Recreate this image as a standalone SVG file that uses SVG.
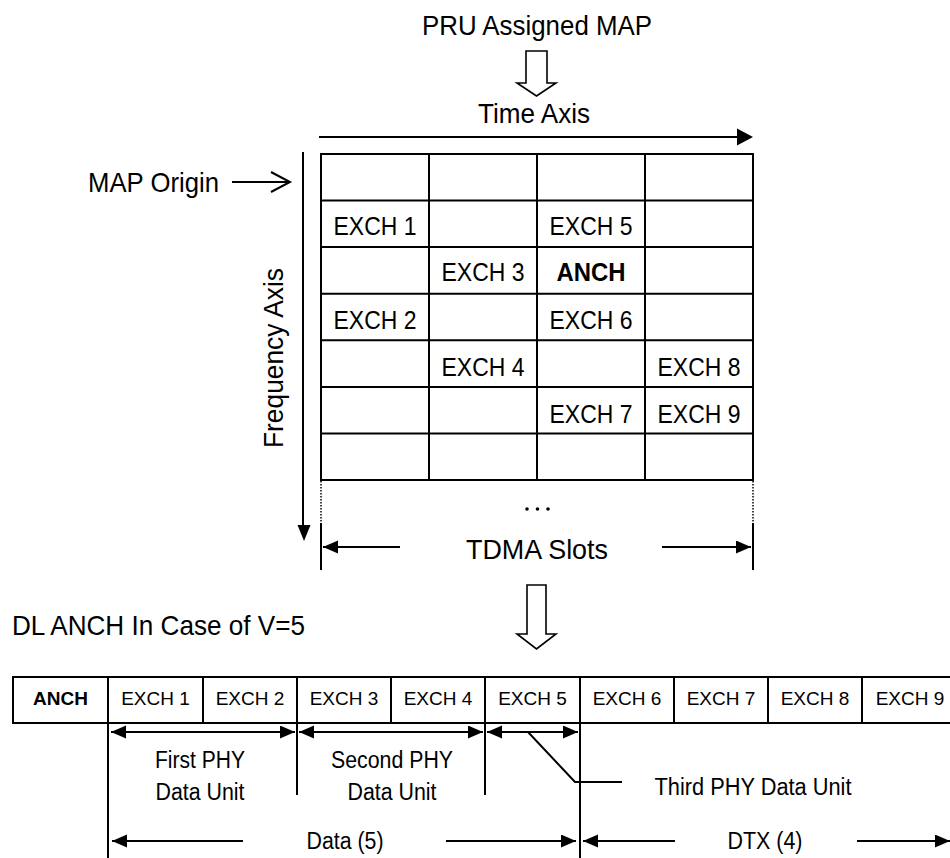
<svg xmlns="http://www.w3.org/2000/svg" width="950" height="858" viewBox="0 0 950 858">
<defs>
<style>
text{font-family:"Liberation Sans",Arial,sans-serif;fill:#000}
.t{font-size:28px}
.g{font-size:25px;text-anchor:middle}
.r{font-size:19px;text-anchor:middle}
.l{font-size:23px;text-anchor:middle}
.b{font-weight:bold}
.ln{stroke:#000;stroke-width:2;fill:none}
.cell{stroke:#000;stroke-width:2;fill:#fff}
.hollow{stroke:#000;stroke-width:1.6;fill:#fff;stroke-linejoin:miter}
</style>
<marker id="ah" markerUnits="userSpaceOnUse" markerWidth="16" markerHeight="14" refX="15" refY="6.5" orient="auto-start-reverse">
<path d="M0,0 L15,6.5 L0,13 Z" fill="#000"/>
</marker>
</defs>
<rect width="950" height="858" fill="#fff"/>

<g id="pru-title">
<text class="t" x="537" y="35" text-anchor="middle" textLength="230" lengthAdjust="spacingAndGlyphs">PRU Assigned MAP</text>
<polygon class="hollow" points="526,51 547,51 547,83 556,83 536.5,96 517,83 526,83"/>
</g>

<g id="time-axis">
<text class="t" x="534" y="123" text-anchor="middle" textLength="112" lengthAdjust="spacingAndGlyphs">Time Axis</text>
<line class="ln" x1="319" y1="137" x2="740" y2="137"/>
<polygon points="737,128.5 753,137 737,145.5" fill="#000"/>
</g>

<g id="map-origin">
<text class="t" x="88" y="192" textLength="131" lengthAdjust="spacingAndGlyphs">MAP Origin</text>
<line class="ln" x1="232" y1="182" x2="289" y2="182"/>
<polyline class="ln" points="271,172 290,182 271,192"/>
</g>

<g id="frequency-axis">
<text class="t" transform="translate(283,358) rotate(-90)" text-anchor="middle" textLength="180" lengthAdjust="spacingAndGlyphs">Frequency Axis</text>
<line class="ln" x1="303" y1="152" x2="303" y2="528"/>
<polygon points="297.5,525 310.5,525 304,541" fill="#000"/>
</g>

<g id="pru-grid">
<rect class="cell" x="321" y="154" width="432" height="326"/>
<g class="ln">
<line x1="429" y1="154" x2="429" y2="480"/>
<line x1="537" y1="154" x2="537" y2="480"/>
<line x1="645" y1="154" x2="645" y2="480"/>
<line x1="321" y1="200.6" x2="753" y2="200.6"/>
<line x1="321" y1="247.1" x2="753" y2="247.1"/>
<line x1="321" y1="293.7" x2="753" y2="293.7"/>
<line x1="321" y1="340.3" x2="753" y2="340.3"/>
<line x1="321" y1="386.9" x2="753" y2="386.9"/>
<line x1="321" y1="433.4" x2="753" y2="433.4"/>
</g>
<text class="g" x="375" y="235" textLength="83" lengthAdjust="spacingAndGlyphs">EXCH 1</text>
<text class="g" x="591" y="235" textLength="83" lengthAdjust="spacingAndGlyphs">EXCH 5</text>
<text class="g" x="483" y="281" textLength="83" lengthAdjust="spacingAndGlyphs">EXCH 3</text>
<text class="g b" x="591" y="281" textLength="69" lengthAdjust="spacingAndGlyphs">ANCH</text>
<text class="g" x="375" y="329" textLength="83" lengthAdjust="spacingAndGlyphs">EXCH 2</text>
<text class="g" x="591" y="329" textLength="83" lengthAdjust="spacingAndGlyphs">EXCH 6</text>
<text class="g" x="483" y="376" textLength="83" lengthAdjust="spacingAndGlyphs">EXCH 4</text>
<text class="g" x="699" y="376" textLength="83" lengthAdjust="spacingAndGlyphs">EXCH 8</text>
<text class="g" x="591" y="423" textLength="83" lengthAdjust="spacingAndGlyphs">EXCH 7</text>
<text class="g" x="699" y="423" textLength="83" lengthAdjust="spacingAndGlyphs">EXCH 9</text>
</g>

<g id="tdma-slots">
<line x1="321" y1="481" x2="321" y2="523" stroke="#000" stroke-width="1.5" stroke-dasharray="1.5,1.5"/>
<line x1="753" y1="481" x2="753" y2="523" stroke="#000" stroke-width="1.5" stroke-dasharray="1.5,1.5"/>
<line class="ln" x1="321" y1="523" x2="321" y2="570"/>
<line class="ln" x1="753" y1="523" x2="753" y2="570"/>
<circle cx="527" cy="509" r="1.8"/>
<circle cx="537.5" cy="509" r="1.8"/>
<circle cx="548" cy="509" r="1.8"/>
<text class="t" x="537" y="559" text-anchor="middle" textLength="142" lengthAdjust="spacingAndGlyphs">TDMA Slots</text>
</g>

<g id="dl-title">
<text class="t" x="12" y="635" textLength="293" lengthAdjust="spacingAndGlyphs">DL ANCH In Case of V=5</text>
<polygon class="hollow" points="527,585 546,585 546,634 556,634 536.5,649 517,634 527,634"/>
</g>

<g id="dl-row">
<rect class="cell" x="13" y="677" width="945" height="46"/>
<g class="ln">
<line x1="108" y1="677" x2="108" y2="723"/>
<line x1="203" y1="677" x2="203" y2="723"/>
<line x1="297" y1="677" x2="297" y2="723"/>
<line x1="391" y1="677" x2="391" y2="723"/>
<line x1="485" y1="677" x2="485" y2="723"/>
<line x1="580" y1="677" x2="580" y2="723"/>
<line x1="674" y1="677" x2="674" y2="723"/>
<line x1="768" y1="677" x2="768" y2="723"/>
<line x1="862" y1="677" x2="862" y2="723"/>
</g>
<text class="r b" x="60.5" y="705">ANCH</text>
<text class="r" x="155.5" y="705">EXCH 1</text>
<text class="r" x="250" y="705">EXCH 2</text>
<text class="r" x="344" y="705">EXCH 3</text>
<text class="r" x="438" y="705">EXCH 4</text>
<text class="r" x="532.5" y="705">EXCH 5</text>
<text class="r" x="627" y="705">EXCH 6</text>
<text class="r" x="721" y="705">EXCH 7</text>
<text class="r" x="815" y="705">EXCH 8</text>
<text class="r" x="910" y="705">EXCH 9</text>
</g>

<g id="first-phy">
<text class="l" x="200" y="768" textLength="90" lengthAdjust="spacingAndGlyphs">First PHY</text>
<text class="l" x="200" y="800" textLength="89" lengthAdjust="spacingAndGlyphs">Data Unit</text>
</g>
<g id="second-phy">
<text class="l" x="392" y="768" textLength="122" lengthAdjust="spacingAndGlyphs">Second PHY</text>
<text class="l" x="392" y="800" textLength="89" lengthAdjust="spacingAndGlyphs">Data Unit</text>
</g>
<g id="third-phy">
<text class="l" x="753" y="795" textLength="197" lengthAdjust="spacingAndGlyphs">Third PHY Data Unit</text>
</g>
<g id="data-5">
<text class="l" x="345" y="849" textLength="77" lengthAdjust="spacingAndGlyphs">Data (5)</text>
</g>
<g id="dtx-4">
<text class="l" x="765" y="849" textLength="75" lengthAdjust="spacingAndGlyphs">DTX (4)</text>
</g>

<g id="connectors" class="ln">
<line x1="108" y1="723" x2="108" y2="858"/>
<line x1="297" y1="723" x2="297" y2="795"/>
<line x1="485" y1="723" x2="485" y2="795"/>
<line x1="580" y1="723" x2="580" y2="858"/>
<line x1="111" y1="732" x2="295" y2="732" marker-start="url(#ah)" marker-end="url(#ah)"/>
<line x1="299" y1="732" x2="483" y2="732" marker-start="url(#ah)" marker-end="url(#ah)"/>
<line x1="487" y1="732" x2="578" y2="732" marker-start="url(#ah)" marker-end="url(#ah)"/>
<polyline points="528,732 575,782 622,782"/>
<line x1="243" y1="841" x2="112" y2="841" marker-end="url(#ah)"/>
<line x1="446" y1="841" x2="576" y2="841" marker-end="url(#ah)"/>
<line x1="675" y1="841" x2="583" y2="841" marker-end="url(#ah)"/>
<line x1="857" y1="841" x2="950" y2="841" marker-end="url(#ah)"/>
<line x1="400" y1="547" x2="323" y2="547" marker-end="url(#ah)"/>
<line x1="662" y1="547" x2="751" y2="547" marker-end="url(#ah)"/>
</g>
</svg>
